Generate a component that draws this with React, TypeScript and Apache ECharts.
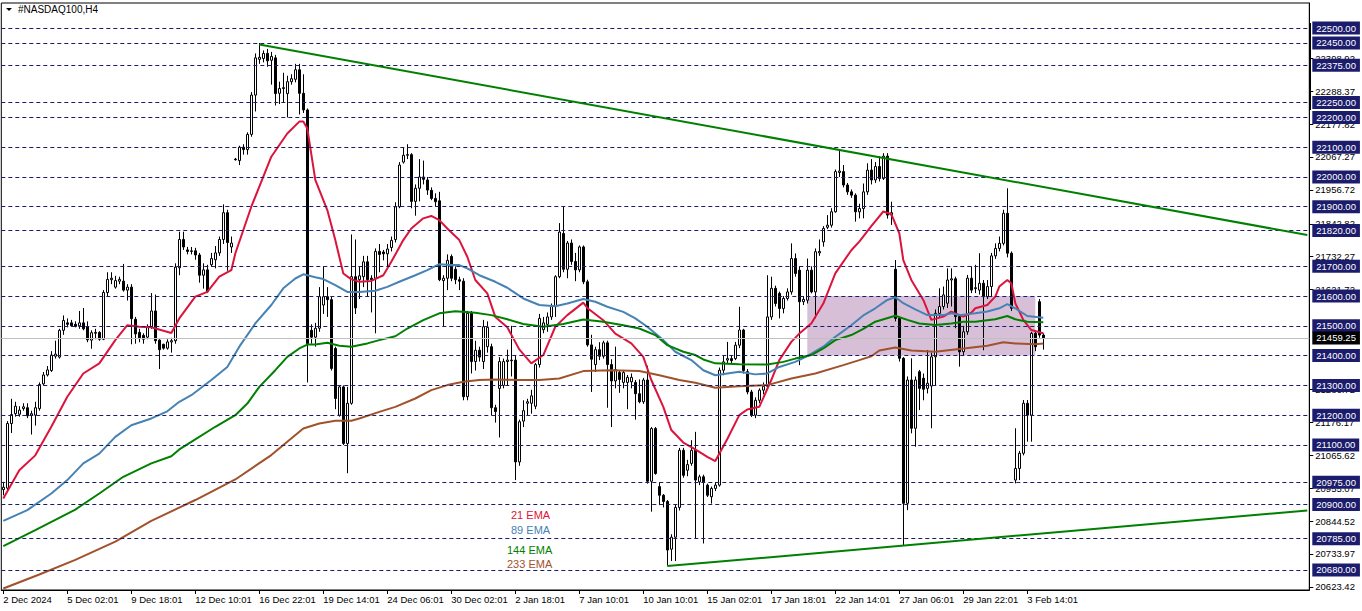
import React, { useEffect, useRef } from "react";
import * as echarts from "echarts";

// ---- DATA ----
// H4 bars, [open, high, low, close]
const ohlc: number[][] = [
  [20950, 20976, 20931, 20958], [20955, 21180, 20945, 21172], [21172, 21255, 21140, 21202], [21205, 21245, 21195, 21230],
  [21203, 21230, 21195, 21217], [21222, 21240, 21215, 21228], [21225, 21240, 21190, 21198], [21200, 21215, 21135, 21205],
  [21200, 21245, 21165, 21225], [21222, 21310, 21215, 21303], [21305, 21345, 21300, 21335], [21335, 21365, 21330, 21352],
  [21350, 21415, 21345, 21402], [21398, 21450, 21390, 21405], [21395, 21490, 21390, 21485], [21485, 21535, 21470, 21518],
  [21510, 21525, 21495, 21505], [21510, 21520, 21497, 21500], [21505, 21515, 21495, 21498], [21500, 21550, 21490, 21510],
  [21510, 21560, 21485, 21490], [21498, 21515, 21445, 21453], [21452, 21485, 21423, 21477], [21475, 21490, 21455, 21478],
  [21478, 21482, 21450, 21455], [21455, 21620, 21452, 21612], [21612, 21680, 21600, 21656], [21655, 21680, 21640, 21660],
  [21630, 21668, 21625, 21652], [21650, 21665, 21640, 21656], [21650, 21708, 21615, 21620], [21620, 21640, 21585, 21630],
  [21630, 21640, 21438, 21524], [21522, 21530, 21440, 21473], [21478, 21490, 21445, 21460], [21468, 21475, 21440, 21455],
  [21462, 21505, 21455, 21495], [21495, 21610, 21490, 21550], [21550, 21605, 21440, 21450], [21452, 21455, 21355, 21420],
  [21438, 21440, 21420, 21425], [21425, 21455, 21420, 21446], [21446, 21460, 21410, 21450], [21450, 21710, 21440, 21697],
  [21695, 21816, 21670, 21790], [21790, 21816, 21755, 21765], [21755, 21765, 21740, 21750], [21750, 21765, 21740, 21752],
  [21752, 21762, 21722, 21738], [21738, 21745, 21645, 21670], [21670, 21710, 21625, 21688], [21688, 21705, 21610, 21615],
  [21705, 21745, 21698, 21726], [21722, 21768, 21693, 21745], [21745, 21800, 21735, 21790], [21790, 21908, 21775, 21880],
  [21880, 21890, 21685, 21780], [21765, 21800, 21745, 21778], [22060, 22064, 22055, 22058], [22055, 22105, 22040, 22100],
  [22100, 22110, 22075, 22092], [22092, 22150, 22075, 22143], [22143, 22285, 22135, 22275], [22275, 22415, 22220, 22400],
  [22395, 22450, 22380, 22402], [22398, 22425, 22385, 22415], [22415, 22430, 22370, 22390], [22392, 22420, 22310, 22405],
  [22400, 22410, 22240, 22280], [22281, 22320, 22245, 22297], [22297, 22350, 22250, 22300], [22280, 22340, 22200, 22320],
  [22320, 22345, 22310, 22330], [22328, 22380, 22318, 22360], [22360, 22380, 22210, 22281], [22281, 22345, 22215, 22225],
  [22225, 22230, 21310, 21440], [21485, 21505, 21440, 21462], [21462, 21510, 21430, 21492], [21492, 21630, 21480, 21598],
  [21570, 21700, 21540, 21598], [21598, 21630, 21530, 21588], [21588, 21600, 21350, 21357], [21424, 21430, 21220, 21256],
  [21200, 21300, 21195, 21295], [21295, 21300, 21100, 21105], [21105, 21295, 21005, 21240], [21240, 21807, 21235, 21665],
  [21665, 21790, 21540, 21560], [21655, 21700, 21590, 21668], [21665, 21735, 21630, 21715], [21715, 21735, 21600, 21655],
  [21660, 21670, 21545, 21655], [21660, 21760, 21475, 21750], [21750, 21775, 21680, 21740], [21748, 21755, 21720, 21742],
  [21742, 21775, 21700, 21758], [21763, 21800, 21750, 21787], [21790, 21915, 21780, 21900], [21900, 22050, 21895, 22040],
  [22050, 22100, 22045, 22073], [22073, 22110, 22060, 22075], [22075, 22080, 21895, 21918], [21918, 21975, 21870, 21962],
  [21962, 22060, 21918, 22000], [22000, 22055, 21975, 21992], [21990, 22000, 21940, 21956], [21955, 21965, 21922, 21928],
  [21928, 21945, 21900, 21917], [21920, 21950, 21650, 21655], [21652, 21670, 21497, 21660], [21660, 21740, 21620, 21720],
  [21733, 21740, 21650, 21660], [21690, 21700, 21640, 21655], [21655, 21665, 21620, 21650], [21650, 21660, 21250, 21262],
  [21262, 21550, 21250, 21542], [21542, 21550, 21340, 21380], [21380, 21450, 21350, 21418], [21418, 21430, 21380, 21395],
  [21380, 21520, 21355, 21497], [21430, 21515, 21410, 21495], [21430, 21440, 21200, 21225], [21225, 21235, 21175, 21212],
  [21290, 21395, 21125, 21380], [21300, 21390, 21290, 21380], [21380, 21420, 21300, 21385], [21385, 21500, 21330, 21383],
  [21385, 21400, 20982, 21043], [21043, 21185, 21030, 21178], [21180, 21250, 21160, 21215], [21240, 21255, 21200, 21245],
  [21240, 21285, 21205, 21265], [21230, 21375, 21220, 21370], [21370, 21540, 21360, 21525], [21487, 21530, 21475, 21510],
  [21505, 21545, 21480, 21530], [21530, 21575, 21520, 21565], [21565, 21670, 21530, 21665], [21665, 21845, 21660, 21815],
  [21810, 21900, 21680, 21690], [21690, 21785, 21660, 21778], [21778, 21790, 21705, 21716], [21716, 21745, 21650, 21688],
  [21688, 21770, 21680, 21765], [21765, 21770, 21640, 21648], [21648, 21655, 21430, 21436], [21436, 21470, 21278, 21388],
  [21370, 21430, 21345, 21420], [21420, 21445, 21385, 21398], [21398, 21450, 21390, 21443], [21443, 21450, 21225, 21370],
  [21370, 21388, 21160, 21315], [21315, 21430, 21290, 21353], [21343, 21350, 21275, 21320], [21310, 21350, 21290, 21343],
  [21310, 21335, 21220, 21327], [21312, 21340, 21290, 21327], [21310, 21318, 21185, 21272], [21272, 21320, 21240, 21245],
  [21245, 21325, 21238, 21318], [21318, 21366, 20970, 20978], [20978, 21160, 20876, 21155], [21155, 21160, 21000, 21004],
  [20960, 20975, 20898, 20931], [20931, 20935, 20890, 20910], [20910, 20915, 20695, 20747], [20750, 20800, 20710, 20790],
  [20790, 20900, 20710, 20890], [20890, 21090, 20880, 21082], [21082, 21090, 20990, 20998], [21015, 21050, 20995, 21034],
  [21038, 21116, 21030, 21082], [21082, 21144, 20786, 20982], [20976, 21000, 20965, 20993], [20993, 21000, 20769, 20976],
  [20965, 20970, 20925, 20931], [20926, 20960, 20903, 20954], [20954, 20975, 20945, 20965], [20965, 21360, 20960, 21351],
  [21351, 21402, 21334, 21379], [21385, 21446, 21375, 21390], [21390, 21400, 21375, 21383], [21390, 21446, 21385, 21435],
  [21435, 21564, 21425, 21486], [21486, 21490, 21340, 21350], [21346, 21355, 21270, 21278], [21278, 21285, 21194, 21200],
  [21200, 21260, 21190, 21250], [21250, 21290, 21240, 21284], [21284, 21310, 21270, 21297], [21297, 21670, 21290, 21530],
  [21530, 21665, 21520, 21626], [21626, 21635, 21565, 21575], [21609, 21615, 21525, 21558], [21558, 21600, 21542, 21592],
  [21592, 21626, 21585, 21614], [21614, 21777, 21605, 21726], [21726, 21743, 21665, 21676], [21687, 21700, 21368, 21581],
  [21581, 21600, 21570, 21589], [21586, 21726, 21575, 21687], [21687, 21700, 21609, 21614], [21614, 21760, 21525, 21749],
  [21745, 21790, 21735, 21750], [21782, 21835, 21766, 21827], [21831, 21872, 21825, 21838], [21838, 21895, 21830, 21883],
  [21883, 22025, 21880, 22018], [22015, 22090, 22000, 22020], [22018, 22040, 21965, 21973], [21973, 21980, 21940, 21950],
  [21950, 21958, 21930, 21939], [21939, 21945, 21850, 21883], [21883, 21910, 21861, 21894], [21894, 21978, 21861, 21950],
  [21950, 22046, 21940, 22023], [22023, 22060, 21975, 21990], [21990, 22050, 21980, 22035], [22035, 22070, 21985, 21995],
  [21995, 22080, 21990, 22070], [22070, 22080, 21860, 21872], [21872, 21917, 21839, 21880], [21690, 21721, 21515, 21525],
  [21525, 21530, 21380, 21391], [21391, 21395, 20764, 20904], [20904, 21330, 20881, 21318], [21318, 21391, 21139, 21156],
  [21156, 21330, 21094, 21318], [21346, 21352, 21217, 21290], [21324, 21340, 21250, 21287], [21290, 21419, 21273, 21307],
  [21298, 21410, 21156, 21396], [21396, 21555, 21300, 21542], [21542, 21626, 21530, 21565], [21565, 21632, 21555, 21604],
  [21576, 21693, 21560, 21654], [21654, 21693, 21565, 21658], [21658, 21665, 21492, 21531], [21531, 21540, 21363, 21413],
  [21413, 21500, 21400, 21480], [21480, 21671, 21470, 21660], [21660, 21700, 21610, 21620], [21625, 21705, 21610, 21628],
  [21620, 21744, 21605, 21643], [21643, 21654, 21418, 21598], [21598, 21654, 21590, 21632], [21632, 21745, 21600, 21735],
  [21735, 21777, 21725, 21760], [21760, 21800, 21750, 21777], [21777, 21890, 21770, 21878], [21878, 21962, 21730, 21744],
  [21744, 21750, 21550, 21559], [20982, 21156, 20971, 21021], [21021, 21080, 20982, 21072], [21072, 21251, 21065, 21240],
  [21240, 21251, 21111, 21200], [21200, 21480, 21111, 21475], [21475, 21485, 21415, 21430], [21581, 21590, 21460, 21469],
  [21469, 21475, 21420, 21459.25],
];

// EMA readings: [bar index, value]
const ema21: number[][] = [
  [0, 20920], [4, 21015], [8, 21065], [12, 21161], [16, 21262], [20, 21340], [24, 21374], [28, 21452], [31, 21502],
  [34, 21497], [37, 21495], [42, 21476], [44, 21525], [48, 21598], [51, 21614], [54, 21665], [57, 21687], [58, 21743],
  [62, 21900], [67, 22068], [71, 22146], [74, 22186], [75, 22186], [76, 22163], [78, 21990], [81, 21889], [83, 21788],
  [85, 21676], [87, 21656], [89, 21648], [92, 21651], [95, 21670], [97, 21715], [100, 21788], [102, 21827], [105, 21861],
  [107, 21869], [109, 21855], [111, 21827], [114, 21788], [116, 21732], [118, 21654], [121, 21609], [123, 21530],
  [126, 21495], [129, 21421], [132, 21374], [135, 21402], [138, 21497], [141, 21536], [145, 21578], [146, 21560],
  [150, 21519], [153, 21474], [157, 21441], [160, 21396], [162, 21318], [165, 21228], [167, 21150], [170, 21108],
  [173, 21085], [176, 21060], [178, 21046], [181, 21120], [184, 21200], [186, 21219], [189, 21228], [192, 21318],
  [194, 21385], [197, 21446], [199, 21474], [202, 21508], [205, 21575], [208, 21676], [212, 21754], [214, 21783],
  [217, 21835], [220, 21884], [222, 21875], [224, 21811], [225, 21721], [227, 21654], [230, 21587], [232, 21520],
  [235, 21531], [237, 21548], [238, 21542], [240, 21531], [242, 21544], [243, 21559], [246, 21570], [248, 21598],
  [249, 21632], [251, 21654], [252, 21643], [253, 21576], [255, 21520], [257, 21486], [260, 21475],
];
const ema89: number[][] = [
  [0, 20845], [6, 20881], [12, 20937], [16, 20982], [20, 21038], [24, 21071], [28, 21127], [32, 21166], [37, 21189],
  [41, 21213], [44, 21245], [47, 21267], [52, 21318], [56, 21362], [59, 21430], [63, 21508], [67, 21570], [70, 21626],
  [73, 21659], [75, 21673], [78, 21663], [80, 21657], [83, 21637], [86, 21614], [89, 21614], [93, 21618], [96, 21631],
  [99, 21648], [103, 21670], [106, 21687], [109, 21707], [112, 21704], [114, 21704], [116, 21693], [119, 21670],
  [123, 21648], [126, 21628], [130, 21592], [134, 21570], [138, 21566], [141, 21575], [145, 21590], [148, 21581],
  [151, 21564], [155, 21547], [158, 21525], [161, 21497], [165, 21452], [168, 21413], [172, 21385], [175, 21351],
  [178, 21334], [181, 21340], [184, 21346], [188, 21337], [191, 21340], [194, 21362], [198, 21379], [201, 21398],
  [205, 21430], [208, 21463], [212, 21502], [215, 21535], [218, 21559], [221, 21587], [223, 21596], [225, 21576],
  [228, 21555], [231, 21536], [235, 21536], [237, 21542], [239, 21536], [243, 21542], [246, 21548], [249, 21559],
  [251, 21573], [253, 21559], [256, 21533], [260, 21527],
];
const ema144: number[][] = [
  [0, 20760], [8, 20814], [18, 20883], [24, 20937], [30, 20993], [37, 21038], [42, 21062], [44, 21085], [47, 21110],
  [53, 21161], [58, 21200], [61, 21239], [64, 21295], [68, 21351], [71, 21396], [74, 21424], [76, 21437], [78, 21437],
  [81, 21443], [84, 21433], [87, 21430], [91, 21441], [94, 21452], [98, 21465], [101, 21491], [105, 21519], [109, 21542],
  [113, 21549], [118, 21544], [122, 21536], [126, 21522], [130, 21506], [135, 21497], [140, 21506], [145, 21521],
  [150, 21514], [155, 21502], [159, 21491], [163, 21469], [166, 21435], [170, 21413], [173, 21402], [175, 21387],
  [178, 21374], [184, 21371], [191, 21370], [195, 21379], [198, 21390], [202, 21402], [205, 21424], [208, 21452],
  [212, 21469], [215, 21490], [218, 21514], [223, 21534], [226, 21520], [229, 21508], [233, 21503], [237, 21508],
  [240, 21514], [243, 21514], [248, 21522], [251, 21533], [253, 21522], [256, 21514], [260, 21512],
];
const ema233: number[][] = [
  [0, 20618], [9, 20665], [18, 20714], [28, 20775], [37, 20845], [48, 20915], [58, 20984], [67, 21066], [75, 21155],
  [79, 21172], [83, 21181], [87, 21181], [89, 21189], [94, 21211], [98, 21228], [103, 21256], [107, 21284], [111, 21301],
  [115, 21312], [119, 21318], [123, 21320], [129, 21318], [134, 21318], [139, 21323], [145, 21348], [152, 21351],
  [159, 21348], [164, 21334], [169, 21318], [173, 21309], [178, 21292], [184, 21297], [191, 21301], [197, 21323],
  [203, 21340], [210, 21368], [214, 21385], [217, 21398], [219, 21417], [223, 21427], [227, 21417], [233, 21413],
  [239, 21422], [246, 21433], [250, 21445], [253, 21441], [258, 21438], [260, 21441],
];

const levels: number[] = [
  22500, 22450, 22375, 22250, 22200, 22100, 22000, 21900, 21820, 21700, 21600, 21500, 21400, 21300, 21200, 21100,
  20975, 20900, 20785, 20680,
];
const currentPrice = 21459.25;
const priceTicks: number[] = [
  22398.92, 22288.37, 22177.82, 22067.27, 21956.72, 21842.82, 21732.27, 21621.72, 21286.72, 21176.17, 21065.62,
  20955.07, 20844.52, 20733.97, 20623.42,
];
const timeLabelBars: number[] = [0, 16, 32, 48, 64, 80, 96, 112, 128, 144, 160, 176, 192, 208, 224, 240, 256];
const timeLabelTexts: string[] = [
  "2 Dec 2024", "5 Dec 02:01", "9 Dec 18:01", "12 Dec 10:01", "16 Dec 22:01", "19 Dec 14:01", "24 Dec 06:01",
  "30 Dec 02:01", "2 Jan 18:01", "7 Jan 10:01", "10 Jan 10:01", "15 Jan 02:01", "17 Jan 18:01", "22 Jan 14:01",
  "27 Jan 06:01", "29 Jan 22:01", "3 Feb 14:01",
];
// trend lines: [bar, price] start / end
const upperTrend: number[][] = [[64, 22445], [326, 21805]];
const lowerTrend: number[][] = [[166, 20693], [326, 20880]];
// zone: [bar from, bar to, price top, price bottom]
const zone: number[] = [201, 258, 21600, 21400];
const emaNames: string[] = ["21 EMA", "89 EMA", "144 EMA", "233 EMA"];
const emaColors: string[] = ["#dc143c", "#4682b4", "#008000", "#a0522d"];

const TOTAL_BARS = 327;
const FONT = '"Liberation Sans", Arial, sans-serif';

function sparse(points: number[][]): (number | null)[] {
  const arr: (number | null)[] = new Array(TOTAL_BARS).fill(null);
  points.forEach(([i, v]) => {
    arr[i] = v;
  });
  return arr;
}

export default function App() {
  const ref = useRef<HTMLDivElement>(null);

  useEffect(() => {
    if (!ref.current) return;
    const chart = echarts.init(ref.current, null, { renderer: "svg" });
    const cats = Array.from({ length: TOTAL_BARS }, (_, i) => String(i));
    const labelMap: Record<number, string> = {};
    timeLabelBars.forEach((b, k) => (labelMap[b] = timeLabelTexts[k]));
    const showLabel = (i: number) => labelMap[i] !== undefined;
    const empty = new Array(TOTAL_BARS).fill(null);

    const emaSets = [ema21, ema89, ema144, ema233];

    const option: any = {
      animation: false,
      textStyle: { fontFamily: FONT },
      grid: {
        left: 1.3,
        right: 52.7,
        top: 3,
        bottom: 21,
        show: true,
        borderColor: "#000",
        borderWidth: 1,
        backgroundColor: "#fff",
      },
      xAxis: {
        type: "category",
        data: cats,
        boundaryGap: true,
        axisLine: { show: true, lineStyle: { color: "#000", width: 1 } },
        axisTick: {
          show: true,
          alignWithLabel: true,
          interval: (i: number) => showLabel(i),
          length: 4,
          lineStyle: { color: "#000" },
        },
        axisLabel: {
          interval: (i: number) => showLabel(i),
          formatter: (_v: string, i: number) => labelMap[i] || "",
          align: "left",
          margin: 4,
          fontSize: 9.5,
          color: "#000",
          fontFamily: FONT,
        },
        splitLine: { show: false },
      },
      yAxis: {
        type: "value",
        position: "right",
        min: 20612.8,
        max: 22584.3,
        splitLine: { show: false },
        axisLine: { show: true, lineStyle: { color: "#000", width: 1 } },
        axisTick: { show: true, customValues: priceTicks, length: 4, lineStyle: { color: "#000" } },
        axisLabel: {
          customValues: priceTicks,
          formatter: (v: number) => v.toFixed(2),
          fontSize: 9.5,
          color: "#000",
          margin: 6,
          fontFamily: FONT,
        },
      },
      series: [
        {
          name: "zone",
          type: "line",
          data: empty,
          z: 1,
          silent: true,
          symbol: "none",
          markArea: {
            silent: true,
            itemStyle: { color: "#d8bfd8" },
            data: [[{ xAxis: String(zone[0]), yAxis: zone[2] }, { xAxis: String(zone[1]), yAxis: zone[3] }]],
          },
        },
        {
          name: "levels",
          type: "line",
          data: empty,
          z: 2,
          silent: true,
          symbol: "none",
          markLine: {
            silent: true,
            symbol: ["none", "none"],
            animation: false,
            data: [
              ...levels.map((v) => ({
                yAxis: v,
                lineStyle: { color: "#1b1b6b", type: [4, 3], width: 1 },
                label: {
                  show: true,
                  position: "end",
                  distance: 3,
                  formatter: () => v.toFixed(2),
                  color: "#fff",
                  backgroundColor: "#1c1c6c",
                  padding: [2, 4, 1, 4],
                  fontSize: 9.5,
                  fontFamily: FONT,
                },
              })),
              {
                yAxis: currentPrice,
                lineStyle: { color: "#c0c0c0", type: "solid", width: 1 },
                label: {
                  show: true,
                  position: "end",
                  distance: 3,
                  formatter: () => currentPrice.toFixed(2),
                  color: "#fff",
                  backgroundColor: "#000",
                  padding: [2, 4, 1, 4],
                  fontSize: 9.5,
                  fontFamily: FONT,
                },
              },
            ],
          },
        },
        {
          name: "price",
          type: "candlestick",
          z: 3,
          barWidth: 3,
          data: ohlc.map(([o, h, l, c]) => [o, c, l, h]),
          itemStyle: {
            color: "#fff",
            color0: "#000",
            borderColor: "#000",
            borderColor0: "#000",
            borderWidth: 1,
          },
        },
        ...emaSets.map((pts, k) => ({
          name: emaNames[k],
          type: "line",
          z: 4,
          data: sparse(pts),
          connectNulls: true,
          showSymbol: false,
          symbol: "none",
          lineStyle: { color: emaColors[k], width: 2 },
        })),
        {
          name: "trend",
          type: "line",
          data: empty,
          z: 5,
          silent: true,
          symbol: "none",
          markLine: {
            silent: true,
            symbol: ["none", "none"],
            label: { show: false },
            lineStyle: { color: "#008000", width: 2, type: "solid" },
            data: [
              [{ coord: [String(upperTrend[0][0]), upperTrend[0][1]] }, { coord: [String(upperTrend[1][0]), upperTrend[1][1]] }],
              [{ coord: [String(lowerTrend[0][0]), lowerTrend[0][1]] }, { coord: [String(lowerTrend[1][0]), lowerTrend[1][1]] }],
            ],
          },
        },
      ],
      graphic: [
        { type: "polygon", shape: { points: [[6, 8], [12, 8], [9, 11]] }, style: { fill: "#000" } },
        {
          type: "text",
          left: 18,
          top: 4,
          style: { text: "#NASDAQ100,H4", font: `10px ${FONT}`, fill: "#000" },
        },
        { type: "rect", shape: { x: 1309, y: 23, width: 2, height: 87 }, style: { fill: "#000" } },
        { type: "text", x: 511, y: 515, style: { text: emaNames[0], fill: emaColors[0], font: `11px ${FONT}`, verticalAlign: "middle" } },
        { type: "text", x: 511, y: 530, style: { text: emaNames[1], fill: emaColors[1], font: `11px ${FONT}`, verticalAlign: "middle" } },
        { type: "text", x: 507, y: 550, style: { text: emaNames[2], fill: emaColors[2], font: `11px ${FONT}`, verticalAlign: "middle" } },
        { type: "text", x: 507, y: 564, style: { text: emaNames[3], fill: emaColors[3], font: `11px ${FONT}`, verticalAlign: "middle" } },
      ],
    };

    chart.setOption(option);
    return () => chart.dispose();
  }, []);

  return (
    <div
      ref={ref}
      style={{ position: "fixed", left: 0, top: 0, width: 1362, height: 611, background: "#fff" }}
    />
  );
}
